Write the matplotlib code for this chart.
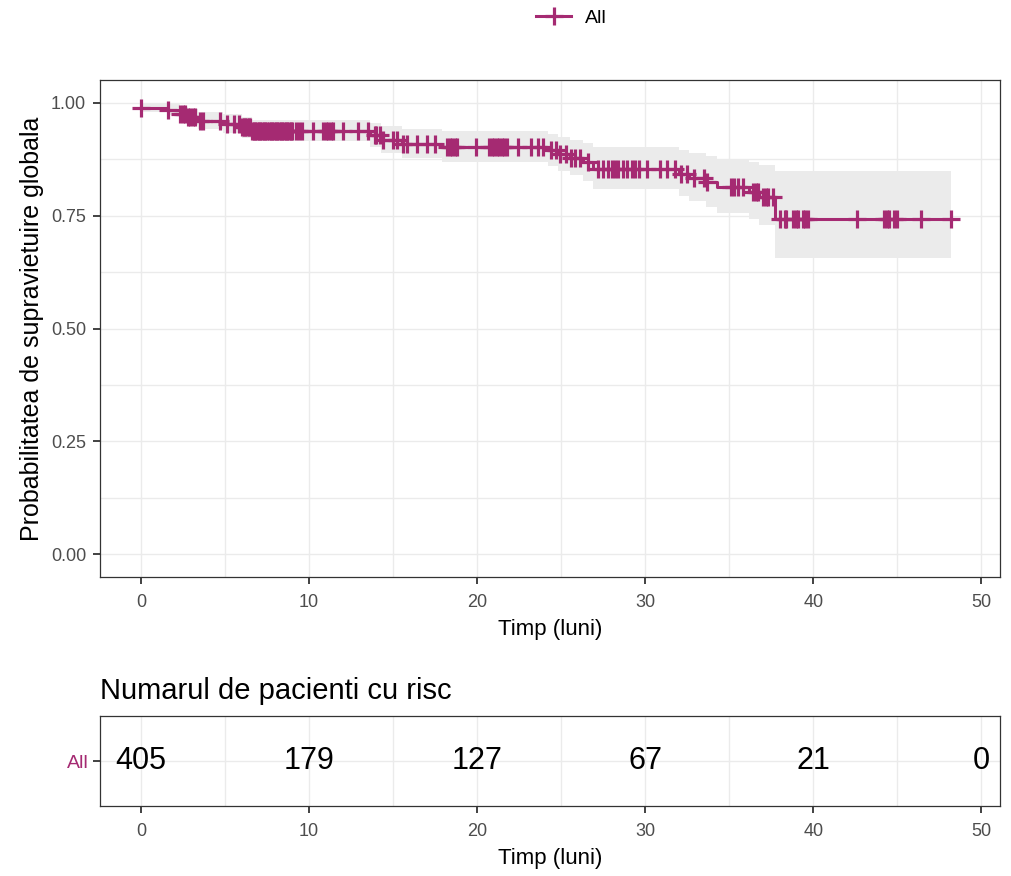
import matplotlib.pyplot as plt
import numpy as np

plt.rcParams['font.family'] = ['Liberation Sans', 'DejaVu Sans']

# Kaplan-Meier steps
step_time = [0, 1.6, 2.3, 2.8, 3.4, 4.9, 6.0, 6.6, 13.6, 14.3, 15.5, 17.9,
             24.2, 24.8, 25.5, 26.3, 26.9, 32.0, 32.6, 33.6, 34.3, 36.2, 36.8, 37.7]
step_surv = [0.989, 0.984, 0.975, 0.968, 0.960, 0.953, 0.945, 0.938, 0.928, 0.918, 0.909, 0.902,
             0.894, 0.886, 0.878, 0.868, 0.854, 0.843, 0.834, 0.824, 0.814, 0.803, 0.792, 0.743]
step_lower = [0.979, 0.972, 0.960, 0.951, 0.941, 0.932, 0.922, 0.914, 0.902, 0.889, 0.878, 0.869,
              0.859, 0.849, 0.839, 0.826, 0.809, 0.794, 0.782, 0.769, 0.756, 0.742, 0.728, 0.655]
step_upper = [1.000, 0.996, 0.990, 0.985, 0.979, 0.974, 0.968, 0.962, 0.955, 0.948, 0.941, 0.936,
              0.930, 0.924, 0.918, 0.911, 0.901, 0.894, 0.888, 0.882, 0.876, 0.869, 0.862, 0.848]
end_time = 48.2

censor_time = [0.0, 1.6, 2.3, 2.5, 2.6, 2.8, 2.9, 3.1, 3.2, 3.5, 3.7, 4.7, 5.1, 5.5, 5.8,
               6.0, 6.1, 6.2, 6.3, 6.4, 6.5, 6.6, 6.7, 6.8, 6.9, 7.0, 7.1, 7.2, 7.3, 7.4,
               7.5, 7.6, 7.7, 7.8, 7.9, 8.0, 8.1, 8.2, 8.3, 8.4, 8.5, 8.6, 8.7, 8.8,
               8.9, 9.0, 9.2, 9.4, 9.6, 10.2, 10.8, 11.0, 11.1, 11.3, 11.4, 12.0, 12.9,
               13.5, 13.9, 14.0, 14.2, 14.4, 15.0, 15.2, 15.6, 15.8, 16.4, 17.0, 17.5,
               18.2, 18.4, 18.5, 18.7, 18.8, 19.9, 20.7, 20.9, 21.0, 21.2, 21.3, 21.5,
               21.6, 21.8, 22.4, 23.2, 23.6, 23.9, 24.4, 24.7, 24.9, 25.3, 25.6, 25.8,
               26.1, 26.6, 27.2, 27.5, 27.8, 28.0, 28.2, 28.4, 28.7, 28.9, 29.2, 29.4,
               29.6, 30.1, 30.9, 31.3, 31.8, 32.1, 32.5, 32.9, 33.5, 33.7, 35.1, 35.3,
               35.5, 35.8, 36.4, 36.6, 36.7, 37.0, 37.2, 37.3, 37.6, 38.0, 38.3, 38.4,
               38.8, 39.0, 39.1, 39.4, 39.5, 39.7, 42.6, 44.2, 44.4, 44.5, 44.8, 45.0,
               46.4, 48.2]

risk_times = [0, 10, 20, 30, 40, 50]
risk_counts = [405, 179, 127, 67, 21, 0]

col = '#A52A72'
tick_col = '#4D4D4D'
grid_col = '#EBEBEB'

fig = plt.figure(figsize=(10.11, 8.76), dpi=100)
ax = fig.add_axes([0.0989, 0.3413, 0.890, 0.5674])
ax2 = fig.add_axes([0.0989, 0.0799, 0.890, 0.1027])

t_all = step_time + [end_time]
ax.fill_between(t_all, step_lower + [step_lower[-1]], step_upper + [step_upper[-1]],
                step='post', color='#EBEBEB', linewidth=0, zorder=1)
ax.plot(t_all, step_surv + [step_surv[-1]], drawstyle='steps-post', color=col,
        linewidth=2.2, zorder=3)
idx = np.searchsorted(step_time, censor_time, side='right') - 1
cens_surv = np.array(step_surv)[idx]
ax.plot(censor_time, cens_surv, linestyle='none', marker='+', markersize=13,
        markeredgewidth=2.3, color=col, zorder=4)

for a in (ax, ax2):
    a.set_xlim(-2.45, 51.1)
    a.set_xticks(range(0, 51, 10))
    a.set_xticks(range(5, 51, 10), minor=True)
    a.grid(True, which='both', color=grid_col, linewidth=1, zorder=0)
    a.set_axisbelow(True)
    for s in a.spines.values():
        s.set_color('#333333')
        s.set_linewidth(0.9)
    a.tick_params(which='major', length=5, width=1.3, color='#333333', labelcolor=tick_col,
                  labelsize=13, pad=7)
    a.tick_params(which='minor', length=0)
    a.set_xlabel('Timp (luni)', fontsize=16, labelpad=6)

ax.set_ylim(-0.05, 1.05)
ax.set_yticks([0, 0.25, 0.5, 0.75, 1.0])
ax.set_yticks([0.125, 0.375, 0.625, 0.875], minor=True)
ax.set_yticklabels(['0.00', '0.25', '0.50', '0.75', '1.00'])
ax.tick_params(axis='y', pad=5)
ax.set_ylabel('Probabilitatea de supravietuire globala', fontsize=18, labelpad=5)

ax2.set_ylim(0.5, 1.5)
ax2.set_yticks([1])
ax2.set_yticklabels(['All'], fontsize=14)
ax2.tick_params(axis='y', pad=3)
ax2.get_yticklabels()[0].set_color(col)
for t, n in zip(risk_times, risk_counts):
    ax2.text(t, 1, str(n), ha='center', va='center', fontsize=22, color='black')
ax2.set_title('Numarul de pacienti cu risc', fontsize=21, loc='left', pad=12)

handle, = ax.plot([], [], color=col, marker='+', markersize=13, markeredgewidth=2.3,
                  linewidth=2.2)
fig.legend([handle], ['All'], loc='center', bbox_to_anchor=(0.565, 0.979), frameon=False,
           fontsize=14, handlelength=1.8, handletextpad=0.7)

fig.savefig('out.png', dpi=100)
